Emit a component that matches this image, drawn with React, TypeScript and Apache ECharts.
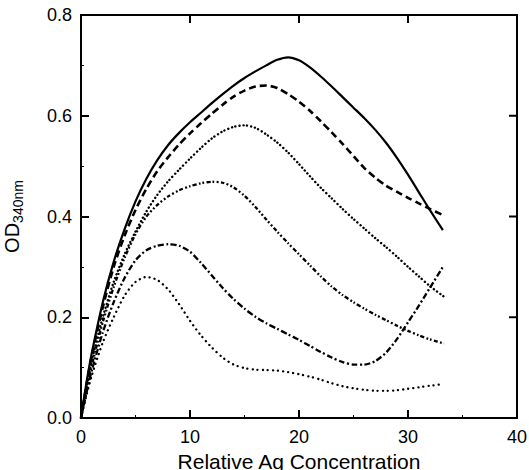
import React, { useEffect, useRef } from "react";
import * as echarts from "echarts";

// Relative Ag concentration (x) and OD340nm (y) for six curves
const xA = [0, 0.5, 1, 2, 3, 4, 5, 6, 7, 8, 9, 10, 11, 12, 13, 14, 15, 16, 17, 18, 19, 20, 21, 22, 23, 24, 25, 26, 27, 28, 29, 30, 31, 32, 33.2];
const yA = [0, 0.07, 0.13, 0.23, 0.31, 0.375, 0.43, 0.475, 0.512, 0.542, 0.566, 0.587, 0.606, 0.625, 0.643, 0.66, 0.675, 0.688, 0.7, 0.711, 0.716, 0.71, 0.696, 0.678, 0.658, 0.637, 0.616, 0.595, 0.572, 0.546, 0.516, 0.483, 0.448, 0.413, 0.373];

const xB = [0, 0.5, 1, 2, 3, 4, 5, 6, 7, 8, 9, 10, 11, 12, 13, 14, 15, 16, 17, 18, 19, 20, 21, 22, 23, 24, 25, 26, 27, 28, 29, 30, 31, 32, 33.2];
const yB = [0, 0.065, 0.125, 0.22, 0.3, 0.362, 0.413, 0.455, 0.49, 0.518, 0.543, 0.565, 0.585, 0.604, 0.622, 0.638, 0.65, 0.658, 0.66, 0.655, 0.643, 0.628, 0.61, 0.589, 0.567, 0.544, 0.52, 0.496, 0.477, 0.461, 0.449, 0.437, 0.426, 0.415, 0.403];

const xC = [0, 0.5, 1, 2, 3, 4, 5, 6, 7, 8, 9, 10, 11, 12, 13, 14, 15, 16, 17, 18, 19, 20, 21, 22, 23, 24, 25, 26, 27, 28, 29, 30, 31, 32, 33.3];
const yC = [0, 0.06, 0.115, 0.2, 0.27, 0.325, 0.37, 0.41, 0.443, 0.47, 0.493, 0.515, 0.536, 0.555, 0.569, 0.578, 0.581, 0.576, 0.563, 0.547, 0.527, 0.504, 0.48, 0.457, 0.436, 0.415, 0.395, 0.376, 0.357, 0.339, 0.32, 0.3, 0.281, 0.262, 0.241];

const xD = [0, 0.5, 1, 2, 3, 4, 5, 6, 7, 8, 9, 10, 11, 12, 13, 14, 15, 16, 17, 18, 19, 20, 21, 22, 23, 24, 25, 26, 27, 28, 29, 30, 31, 32, 33.3];
const yD = [0, 0.055, 0.105, 0.19, 0.26, 0.318, 0.365, 0.4, 0.423, 0.44, 0.452, 0.46, 0.466, 0.469, 0.467, 0.458, 0.441, 0.419, 0.394, 0.37, 0.347, 0.325, 0.303, 0.281, 0.261, 0.244, 0.23, 0.217, 0.205, 0.194, 0.183, 0.173, 0.164, 0.156, 0.148];

const xE = [0, 0.5, 1, 2, 3, 4, 5, 6, 7, 8, 9, 10, 11, 12, 13, 14, 15, 16, 17, 18, 19, 20, 21, 22, 23, 24, 25, 26, 27, 28, 29, 30, 31, 32, 33.2];
const yE = [0, 0.05, 0.095, 0.17, 0.23, 0.278, 0.313, 0.333, 0.342, 0.345, 0.342, 0.33, 0.308, 0.283, 0.258, 0.236, 0.217, 0.201, 0.188, 0.177, 0.166, 0.155, 0.143, 0.131, 0.12, 0.111, 0.106, 0.106, 0.113, 0.13, 0.157, 0.19, 0.223, 0.258, 0.3];

const xF = [0, 0.5, 1, 2, 3, 4, 5, 6, 7, 8, 9, 10, 11, 12, 13, 14, 15, 16, 17, 18, 19, 20, 21, 22, 23, 24, 25, 26, 27, 28, 29, 30, 31, 32, 33.1];
const yF = [0, 0.045, 0.085, 0.15, 0.2, 0.243, 0.27, 0.28, 0.274, 0.255, 0.226, 0.193, 0.164, 0.14, 0.12, 0.106, 0.099, 0.096, 0.095, 0.094, 0.091, 0.087, 0.082, 0.076, 0.069, 0.063, 0.059, 0.056, 0.054, 0.054, 0.055, 0.058, 0.061, 0.064, 0.067];

const xTicks = [0, 10, 20, 30, 40];
const yTickVals = [0, 0.2, 0.4, 0.6, 0.8];
const yTicks = ["0.0", "0.2", "0.4", "0.6", "0.8"];

const FONT = "'Liberation Sans', Arial, Helvetica, sans-serif";

const GRID = { left: 81, right: 12, top: 15, bottom: 52 };
const W = 529;
const H = 470;

const zip = (xs: number[], ys: number[]) => xs.map((x, i) => [x, ys[i]]);

export default function App() {
  const ref = useRef<HTMLDivElement>(null);
  useEffect(() => {
    if (!ref.current) return;
    const chart = echarts.init(ref.current, undefined, { renderer: "svg" });
    const mk = (xs: number[], ys: number[], dash: any, width: number, cap: any = "butt") => ({
      type: "line",
      data: zip(xs, ys),
      showSymbol: false,
      smooth: 0.25,
      lineStyle: { color: "#000", width, type: dash, cap, join: "round" },
    });
    const xMin = xTicks[0];
    const xMax = xTicks[xTicks.length - 1];
    const yMin = yTickVals[0];
    const yMax = yTickVals[yTickVals.length - 1];
    // 8 px tick length expressed in each axis's units
    const plotW = W - GRID.left - GRID.right;
    const plotH = H - GRID.top - GRID.bottom;
    const tickX = ((xMax - xMin) * 8) / plotW;
    const tickY = ((yMax - yMin) * 8) / plotH;
    const seg = (data: number[][], width: number) => ({
      type: "line",
      data,
      showSymbol: false,
      silent: true,
      clip: false,
      z: 5,
      lineStyle: { color: "#000", width, type: "solid", cap: "butt" },
    });
    const frameSeries: any[] = [
      seg([[xMin, yMax], [xMax, yMax]], 2),
      seg([[xMax, yMin], [xMax, yMax]], 2),
      ...xTicks.slice(1, -1).map((v) => seg([[v, yMax], [v, yMax - tickY]], 2)),
      ...yTickVals.slice(1, -1).map((v) => seg([[xMax, v], [xMax - tickX, v]], 2)),
    ];
    chart.setOption({
      animation: false,
      grid: {
        ...GRID,
        show: true,
        borderColor: "#000",
        borderWidth: 2,
        outerBoundsMode: "none",
      },
      xAxis: {
        type: "value",
        min: xMin,
        max: xMax,
        interval: 10,
        axisLine: { show: true, onZero: false, lineStyle: { color: "#000", width: 2 } },
        axisTick: { show: true, inside: true, length: 8, lineStyle: { color: "#000", width: 2 } },
        minorTick: { show: true, splitNumber: 2, length: 3, lineStyle: { color: "#000", width: 1 } },
        splitLine: { show: false },
        axisLabel: { color: "#000", fontSize: 18, fontFamily: FONT, margin: 10 },
        name: "Relative Ag Concentration",
        nameLocation: "middle",
        nameGap: 26,
        nameTextStyle: { color: "#000", fontSize: 21, lineHeight: 22, fontFamily: FONT },
      },
      yAxis: {
        type: "value",
        min: yMin,
        max: yMax,
        interval: 0.2,
        axisLine: { show: true, onZero: false, lineStyle: { color: "#000", width: 2 } },
        axisTick: { show: true, inside: true, length: 8, lineStyle: { color: "#000", width: 2 } },
        minorTick: { show: true, splitNumber: 2, length: 3, lineStyle: { color: "#000", width: 1 } },
        splitLine: { show: false },
        axisLabel: {
          color: "#000",
          fontSize: 18,
          fontFamily: FONT,
          margin: 9,
          formatter: (v: number) => yTicks[Math.round(v / 0.2)] ?? "",
        },
        name: "{a|OD}{b|340nm}",
        nameLocation: "middle",
        nameGap: 56,
        nameRotate: 90,
        nameTextStyle: {
          color: "#000",
          fontFamily: FONT,
          rich: {
            a: { fontSize: 20, fontFamily: FONT, color: "#000", lineHeight: 26, verticalAlign: "middle" },
            b: { fontSize: 14, fontFamily: FONT, color: "#000", lineHeight: 14, verticalAlign: "bottom" },
          },
        },
      },
      series: [
        mk(xA, yA, "solid", 2.2),
        mk(xB, yB, [7, 4], 2.6),
        mk(xC, yC, [0.1, 3.8], 2.4, "round"),
        mk(xD, yD, [4, 2.2, 1.8, 2.2, 1.8, 2.2], 2.3),
        mk(xE, yE, [6, 2.5, 2, 2.5], 2.3),
        mk(xF, yF, [0.1, 5], 2.3, "round"),
        ...frameSeries,
      ],
    });
    return () => chart.dispose();
  }, []);
  return <div ref={ref} style={{ width: W, height: H, position: "absolute", left: 0, top: 0 }} />;
}
